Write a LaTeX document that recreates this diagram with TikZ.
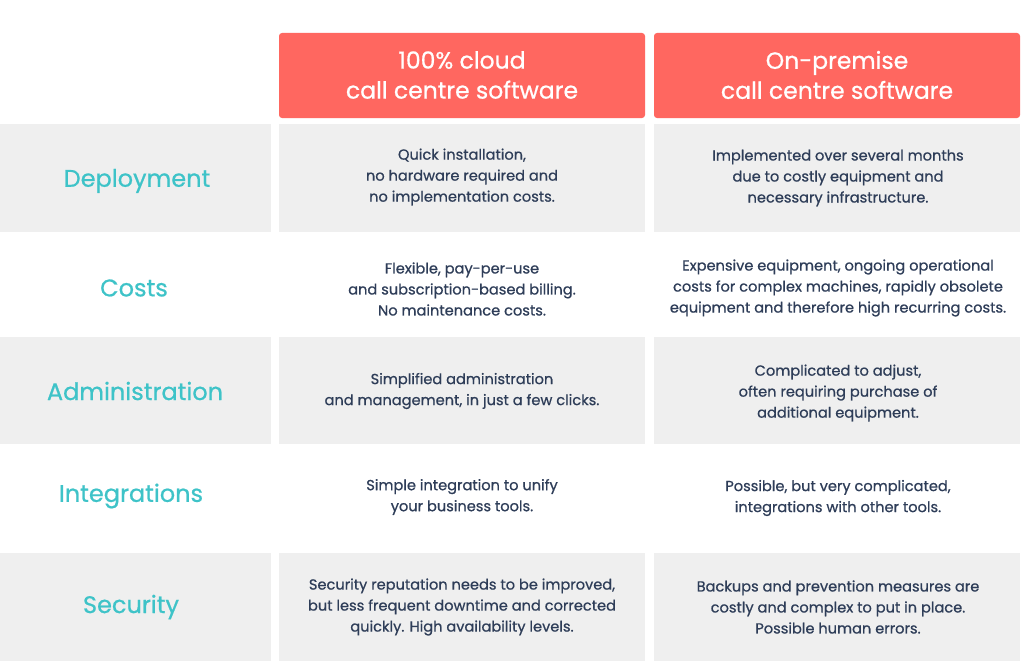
\documentclass[tikz,border=0pt]{standalone}
\usepackage{fontspec}
\setmainfont{Poppins}[BoldFont=Poppins,BoldFeatures={FakeBold=0.7}]
\definecolor{hred}{HTML}{FF6760}
\definecolor{cgray}{HTML}{EFEFEF}
\definecolor{teal}{HTML}{3EC3C8}
\definecolor{navy}{HTML}{2E3D58}
\begin{document}
\begin{tikzpicture}[x=1pt,y=-1pt,
  hdr/.style={fill=hred,rounded corners=3pt},
  cell/.style={fill=cgray},
  body/.style={align=center,text=navy,font=\bfseries\fontsize{14.6}{21}\selectfont},
  lab/.style={text=teal,font=\bfseries\fontsize{24}{26}\selectfont},
  htext/.style={align=center,text=white,font=\bfseries\fontsize{23.5}{30}\selectfont}]
\useasboundingbox (0,0) rectangle (1024,661);
\fill[white] (0,0) rectangle (1024,661);
\fill[hdr] (279,33) rectangle (645,118);
\fill[hdr] (654,33) rectangle (1020,118);
\node[htext] (h1) at (462,75) {100\% cloud\\call centre software};
\node[htext] (h2) at (837,75) {On-premise\\call centre software};
\foreach \t/\b in {124/232,337/444,553/661}{
  \fill[cell] (0,\t) rectangle (271,\b);
  \fill[cell] (279,\t) rectangle (645,\b);
  \fill[cell] (654,\t) rectangle (1020,\b);
}
\node[lab] (l1) at (137,181) {Deployment};
\node[lab] (l2) at (134,288) {Costs};
\node[lab] (l3) at (135,391) {Administration};
\node[lab] (l4) at (131,496) {Integrations};
\node[lab] (l5) at (131,607) {Security};
\node[body] (a1) at (462,177) {Quick installation,\\no hardware required and\\no implementation costs.};
\node[body] (b1) at (838,178) {Implemented over several months\\due to costly equipment and\\necessary infrastructure.};
\node[body] (a2) at (462,289) {Flexible, pay-per-use\\and subscription-based billing.\\No maintenance costs.};
\node[body] (b2) at (838,288) {Expensive equipment, ongoing operational\\costs for complex machines, rapidly obsolete\\equipment and therefore high recurring costs.};
\node[body] (a3) at (462,391) {Simplified administration\\and management, in just a few clicks.};
\node[body] (b3) at (838,393) {Complicated to adjust,\\often requiring purchase of\\additional equipment.};
\node[body] (a4) at (462,497) {Simple integration to unify\\your business tools.};
\node[body] (b4) at (838,498) {Possible, but very complicated,\\integrations with other tools.};
\node[body] (a5) at (462,607) {Security reputation needs to be improved,\\but less frequent downtime and corrected\\quickly. High availability levels.};
\node[body] (b5) at (838,607) {Backups and prevention measures are\\costly and complex to put in place.\\Possible human errors.};
\end{tikzpicture}
\end{document}
